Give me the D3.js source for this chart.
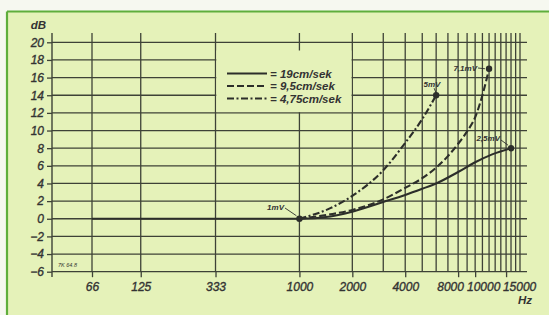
<!DOCTYPE html>
<html><head><meta charset="utf-8">
<script src="https://cdn.jsdelivr.net/npm/d3@7"></script>
<style>
html,body{margin:0;padding:0;background:#f6f8f0;}
svg{display:block;}
text{font-family:"Liberation Sans",Arial,sans-serif;font-style:italic;fill:#333;}
</style></head>
<body>
<svg id="c" width="549" height="315"></svg>
<script>
// ---- data ----
const xTickLabels = [66, 125, 333, 1000, 2000, 4000, 8000, 10000, 15000];
const xGridFreqs = [66, 125, 333, 1000, 2000, 3000, 4000, 5000, 6000, 7000, 8000, 9000,
                    10000, 11000, 12000, 13000, 14000, 15000, 16000, 17000, 18000];
const yTicks = [-6, -4, -2, 0, 2, 4, 6, 8, 10, 12, 14, 16, 18, 20];

const seriesNames = ["= 19cm/sek", "= 9,5cm/sek", "= 4,75cm/sek"];

const freq19 = [66, 1000, 1500, 2000, 3000, 4000, 5000, 6000, 8000, 10000, 12500, 16000];
const db19   = [0, 0, 0.25, 0.8, 1.9, 2.7, 3.4, 4.0, 5.3, 6.4, 7.3, 8.0];

const freq95 = [1000, 1500, 2000, 3000, 4000, 5000, 6000, 7000, 8000, 9000, 10000, 11000, 12000];
const db95   = [0, 0.5, 1.0, 2.2, 3.5, 4.6, 5.8, 7.1, 8.5, 9.9, 11.5, 14.0, 17];

const freq475 = [1000, 1500, 2000, 3000, 4000, 5000, 6000];
const db475   = [0, 1.2, 2.6, 5.5, 8.6, 11.3, 14];

const markFreqs  = [1000, 6000, 12000, 16000];
const markDb     = [0, 14, 17, 8];
const markLabels = ["1mV", "5mV", "7,1mV", "2,5mV"];

// ---- layout ----
const svg = d3.select("#c");
const x = d3.scaleLog().domain([66, 18000]).range([92, 520]);
const y = d3.scaleLinear().domain([-6, 20]).range([271.7, 42.3]);
const axisX = 52, gridRight = 527, gridTop = 33;
const gridColor = "#3e4237";
const inkColor = "#2c2e2a";
const bg = "#e5f2b9";

// background / frame
svg.append("rect").attr("x", 7).attr("y", 11.5).attr("width", 549).attr("height", 315).attr("fill", bg);
svg.append("line").attr("x1", 7).attr("x2", 549).attr("y1", 11.5).attr("y2", 11.5).attr("stroke", "#5fae3c").attr("stroke-width", 2);
svg.append("line").attr("x1", 7).attr("x2", 7).attr("y1", 11.5).attr("y2", 315).attr("stroke", "#5fae3c").attr("stroke-width", 2.2);

const g = svg.append("g");

// horizontal grid
g.selectAll(".hg").data(yTicks).enter().append("line")
  .attr("x1", axisX).attr("x2", gridRight)
  .attr("y1", d => y(d)).attr("y2", d => y(d))
  .attr("stroke", gridColor).attr("stroke-width", 1.3);

// vertical grid
g.selectAll(".vg").data(xGridFreqs).enter().append("line")
  .attr("x1", d => x(d)).attr("x2", d => x(d))
  .attr("y1", gridTop).attr("y2", y(-6))
  .attr("stroke", gridColor).attr("stroke-width", 1.3);

// y axis line
g.append("line").attr("x1", axisX).attr("x2", axisX).attr("y1", gridTop).attr("y2", 277)
  .attr("stroke", gridColor).attr("stroke-width", 1.4);

const styleLabels = sel => sel.attr("font-size", 12).attr("fill", "#333")
  .attr("stroke", "#333").attr("stroke-width", 0.35)
  .style("font-family", "'Liberation Sans',Arial,sans-serif").style("font-style", "italic");

// y axis ticks + labels
const yAxis = d3.axisLeft(y).tickValues(yTicks).tickSize(5).tickPadding(3).tickSizeOuter(0);
const ya = g.append("g").attr("transform", `translate(${axisX},0)`).call(yAxis);
ya.select(".domain").remove();
ya.selectAll(".tick line").attr("stroke", gridColor).attr("stroke-width", 1.3);
styleLabels(ya.selectAll(".tick text"));

// x axis ticks + labels
const labelShift = {8000: -8, 10000: 8, 15000: 13};
const xAxis = d3.axisBottom(x).tickValues(xTickLabels).tickSize(5.5).tickPadding(5).tickSizeOuter(0)
  .tickFormat(d => String(d));
const xa = g.append("g").attr("transform", `translate(0,${y(-6)})`).call(xAxis);
xa.select(".domain").remove();
xa.selectAll(".tick line").attr("stroke", gridColor).attr("stroke-width", 1.3);
styleLabels(xa.selectAll(".tick text")).attr("dx", d => labelShift[d] || 0);

// axis titles
svg.append("text").attr("x", 46).attr("y", 28.5).attr("text-anchor", "end")
  .attr("font-size", 11.5).attr("font-weight", "bold").attr("fill", "#3a3a3a").text("dB");
svg.append("text").attr("x", 532).attr("y", 304).attr("text-anchor", "end")
  .attr("font-size", 11.5).attr("font-weight", "bold").attr("fill", "#3a3a3a").text("Hz");
svg.append("text").attr("x", 58).attr("y", 267).attr("font-size", 5.5).attr("fill", "#444").text("7K 64.8");

// legend box
svg.append("rect").attr("x", x(333) + 0.8).attr("y", 50.5)
  .attr("width", x(2000) - x(333) - 1.6).attr("height", y(12) - 50.5 - 0.8)
  .attr("fill", bg);

// curves
const line = d3.line().x(d => x(d[0])).y(d => y(d[1])).curve(d3.curveMonotoneX);
const series = [
  {f: freq19, v: db19, dash: null},
  {f: freq95, v: db95, dash: "7,3"},
  {f: freq475, v: db475, dash: "7,2.5,2,2.5"}
];
series.forEach(s => {
  const pts = s.f.map((f, i) => [f, s.v[i]]);
  svg.append("path").attr("d", line(pts)).attr("fill", "none")
    .attr("stroke", inkColor).attr("stroke-width", 2.1)
    .attr("stroke-dasharray", s.dash);
});

// legend
const lgY = [73.5, 86, 98.5];
series.forEach((s, i) => {
  svg.append("line").attr("x1", 227).attr("x2", 267).attr("y1", lgY[i]).attr("y2", lgY[i])
    .attr("stroke", inkColor).attr("stroke-width", 2).attr("stroke-dasharray", s.dash);
  svg.append("text").attr("x", 270).attr("y", lgY[i] + 4).attr("font-size", 11.5)
    .attr("font-weight", "bold").attr("fill", "#333").text(seriesNames[i]);
});

// end-point dots and labels
const lblOff = [
  {tx: 284, ty: 210, anchor: "end", lx1: 285, ly1: 208, lx2: -3, ly2: -3},
  {tx: 432, ty: 87, anchor: "middle", lx1: 0, ly1: 0, lx2: 0, ly2: 0},
  {tx: 477, ty: 71, anchor: "end", lx1: 478, ly1: 68, lx2: -4, ly2: 0},
  {tx: 500, ty: 141, anchor: "end", lx1: 501, ly1: 140, lx2: -3, ly2: -3}
];
markFreqs.forEach((f, i) => {
  const px = x(f), py = y(markDb[i]);
  const o = lblOff[i];
  if (o.lx1) {
    svg.append("line").attr("x1", o.lx1).attr("y1", o.ly1).attr("x2", px + o.lx2).attr("y2", py + o.ly2)
      .attr("stroke", inkColor).attr("stroke-width", 0.9);
  } else {
    svg.append("line").attr("x1", px - 2).attr("y1", py - 7).attr("x2", px).attr("y2", py - 2)
      .attr("stroke", inkColor).attr("stroke-width", 0.9);
  }
  svg.append("circle").attr("cx", px).attr("cy", py).attr("r", 3.2).attr("fill", inkColor);
  svg.append("text").attr("x", o.tx).attr("y", o.ty).attr("text-anchor", o.anchor)
    .attr("font-size", 8).attr("font-weight", "bold").attr("fill", "#333").text(markLabels[i]);
});
</script>
</body></html>
